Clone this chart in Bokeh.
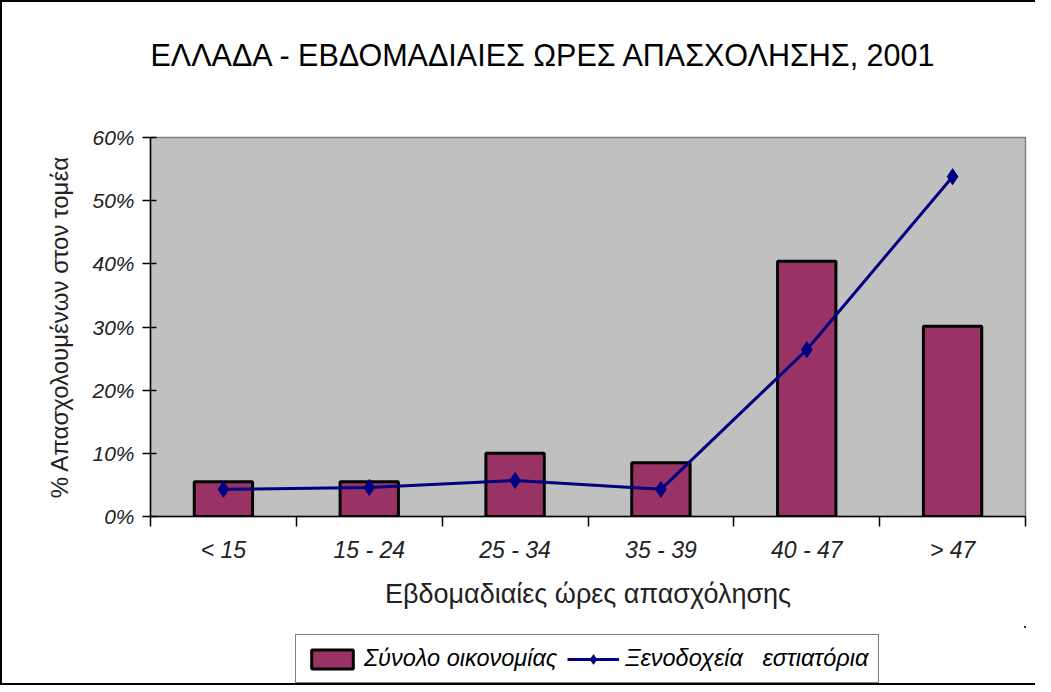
from bokeh.plotting import figure
from bokeh.layouts import column
from bokeh.models import (FixedTicker, NumeralTickFormatter, CustomJSTickFormatter,
                          Range1d, Legend, LegendItem, ColumnDataSource, Label)
from bokeh.embed import file_html
from bokeh.resources import INLINE

title_text = "ΕΛΛΑΔΑ - ΕΒΔΟΜΑΔΙΑΙΕΣ ΩΡΕΣ ΑΠΑΣΧΟΛΗΣΗΣ, 2001"
x_label = "Εβδομαδιαίες ώρες απασχόλησης"
y_label = "% Απασχολουμένων στον τομέα"
categories = ["< 15", "15 - 24", "25 - 34", "35 - 39", "40 - 47", "> 47"]
series_names = ["Σύνολο οικονομίας", "Ξενοδοχεία   εστιατόρια"]
economy_total = [0.055, 0.055, 0.100, 0.085, 0.404, 0.301]
hotels_restaurants = [0.043, 0.046, 0.057, 0.043, 0.264, 0.538]
y_ticks = [0.0, 0.1, 0.2, 0.3, 0.4, 0.5, 0.6]

FONT = "Liberation Sans"
BAR_FILL = "#993366"
LINE_COL = "#000080"
W = 1033
ML, MR = 148, 10

xs = [i + 0.5 for i in range(len(categories))]
src = ColumnDataSource(dict(x=xs, total=economy_total, hotel=hotels_restaurants))


def blank_fig(h):
    f = figure(width=W, height=h, x_range=Range1d(0, W - ML - MR), y_range=Range1d(0, h),
               output_backend="svg", toolbar_location=None,
               x_axis_type=None, y_axis_type=None, min_border=0)
    f.outline_line_color = None
    f.background_fill_color = "white"
    f.border_fill_color = "white"
    f.xgrid.visible = False
    f.ygrid.visible = False
    return f


# ---- title strip ----
tf = blank_fig(100)
tf.add_layout(Label(x=0, y=48, text=title_text, text_align="left",
                    text_baseline="alphabetic", text_font=FONT,
                    text_font_size="30.5px", text_color="black"))

# ---- main chart ----
p = figure(width=W, height=524, x_range=Range1d(0, len(categories)),
           y_range=Range1d(0, 0.6), output_backend="svg", toolbar_location=None,
           min_border_left=ML, min_border_right=MR, min_border_top=35,
           min_border_bottom=110)
p.background_fill_color = "#C0C0C0"
p.border_fill_color = "white"
p.outline_line_color = "#808080"
p.outline_line_width = 1.5
p.xgrid.visible = False
p.ygrid.visible = False

p.vbar(x="x", top="total", width=0.4, source=src, fill_color=BAR_FILL,
       line_color="black", line_width=3)
p.line(x="x", y="hotel", source=src, line_color=LINE_COL, line_width=3)
p.scatter(x="x", y="hotel", source=src, marker="diamond", size=16,
          fill_color=LINE_COL, line_color=LINE_COL)

xa = p.xaxis[0]
xa.ticker = FixedTicker(ticks=xs, minor_ticks=list(range(len(categories) + 1)))
xa.formatter = CustomJSTickFormatter(args=dict(labels=categories),
                                     code="return labels[Math.round(tick - 0.5)];")
xa.major_tick_in = 0
xa.major_tick_out = 0
xa.minor_tick_in = 0
xa.minor_tick_out = 10
xa.minor_tick_line_color = "black"
xa.minor_tick_line_width = 1.5
xa.axis_line_color = "black"
xa.axis_line_width = 1.5
xa.major_label_text_font = FONT
xa.major_label_text_font_size = "23px"
xa.major_label_text_font_style = "italic"
xa.major_label_text_color = "#222222"
xa.major_label_standoff = 10
xa.axis_label = x_label
xa.axis_label_text_font = FONT
xa.axis_label_text_font_size = "27px"
xa.axis_label_text_font_style = "normal"
xa.axis_label_text_color = "#222222"
xa.axis_label_standoff = 13

ya = p.yaxis[0]
ya.ticker = FixedTicker(ticks=y_ticks, minor_ticks=[])
ya.formatter = NumeralTickFormatter(format="0%")
ya.major_tick_in = 6
ya.major_tick_out = 8
ya.major_tick_line_color = "black"
ya.major_tick_line_width = 1.5
ya.axis_line_color = "black"
ya.axis_line_width = 1.5
ya.major_label_text_font = FONT
ya.major_label_text_font_size = "21px"
ya.major_label_text_font_style = "italic"
ya.major_label_text_color = "#222222"
ya.major_label_standoff = 8
ya.axis_label = y_label
ya.axis_label_text_font = FONT
ya.axis_label_text_font_size = "24px"
ya.axis_label_text_font_style = "normal"
ya.axis_label_text_color = "#222222"
ya.axis_label_standoff = 16

# ---- legend strip (glyphs drawn from the same data, outside the view) ----
lf = blank_fig(57)
lf.x_range = Range1d(-20, -10)
lf.y_range = Range1d(-20, -10)
lb = lf.vbar(x="x", top="total", width=0.4, source=src, fill_color=BAR_FILL,
             line_color="black", line_width=3)
ll = lf.line(x="x", y="hotel", source=src, line_color=LINE_COL, line_width=3)
lp = lf.scatter(x="x", y="hotel", source=src, marker="diamond", size=16,
                fill_color=LINE_COL, line_color=LINE_COL)
legend = Legend(items=[LegendItem(label=series_names[0], renderers=[lb]),
                       LegendItem(label=series_names[1], renderers=[ll, lp])],
                location=(145, 0), orientation="horizontal")
legend.label_text_font = FONT
legend.label_text_font_size = "23.5px"
legend.label_text_font_style = "italic"
legend.label_text_color = "black"
legend.border_line_color = "black"
legend.border_line_width = 1.5
legend.background_fill_color = "white"
legend.background_fill_alpha = 1
legend.padding = 10
legend.margin = 0
legend.spacing = 10
legend.glyph_width = 52
legend.glyph_height = 24
legend.label_standoff = 6
lf.add_layout(legend, "center")

inner = column(tf, p, lf, spacing=0)
inner.styles = {"border-left": "2px solid black", "border-top": "2px solid black",
                "border-bottom": "2px solid black"}

open("out.html", "w").write(file_html(inner, INLINE))
